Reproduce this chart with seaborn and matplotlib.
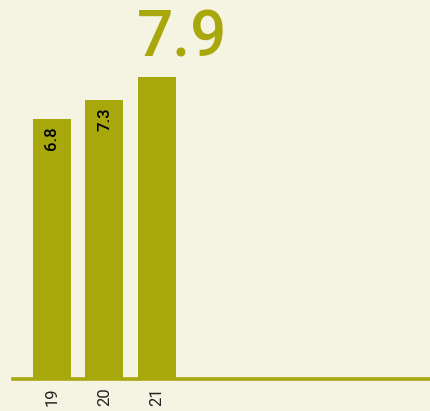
import seaborn as sns
import matplotlib.pyplot as plt
import pandas as pd

# данные
years = ['19', '20', '21']
values = [6.8, 7.3, 7.9]

bg = '#f5f4e2'
olive = '#a8a70b'

sns.set_theme(style='white')
plt.rcParams['font.family'] = ['Roboto', 'DejaVu Sans']

df = pd.DataFrame({'year': years, 'value': values})

fig = plt.figure(figsize=(4.30, 4.11), dpi=100, facecolor=bg)
ax = fig.add_axes([13 / 430, 32 / 411, 417 / 430, 379 / 411])
ax.set_facecolor(bg)

sns.barplot(data=df, x='year', y='value', order=years, color=olive,
            width=0.72, saturation=1, linewidth=0, edgecolor='none', ax=ax)

ax.set_xlim(-0.74, 7.2)
ax.set_ylim(0, 9.9)
ax.set_xlabel('')
ax.set_ylabel('')
ax.set_yticks([])
ax.tick_params(axis='x', length=0, pad=6, labelsize=12, labelcolor='#222222',
               rotation=90)
for s in ['top', 'right', 'left']:
    ax.spines[s].set_visible(False)
ax.spines['bottom'].set_color(olive)
ax.spines['bottom'].set_linewidth(2.6)

# подписи внутри столбцов, последнее значение крупно сверху
for i, v in enumerate(values[:-1]):
    ax.text(i, v - 0.2, f'{v}', rotation=90, ha='center', va='top',
            fontsize=12, fontweight='medium', color='black')
last = len(values) - 1
ax.text(last - 0.38, values[-1] + 0.52, f'{values[-1]}', ha='left', va='baseline',
        fontsize=46, fontweight='medium', color=olive)

plt.savefig('out.png', dpi=100, facecolor=bg)
